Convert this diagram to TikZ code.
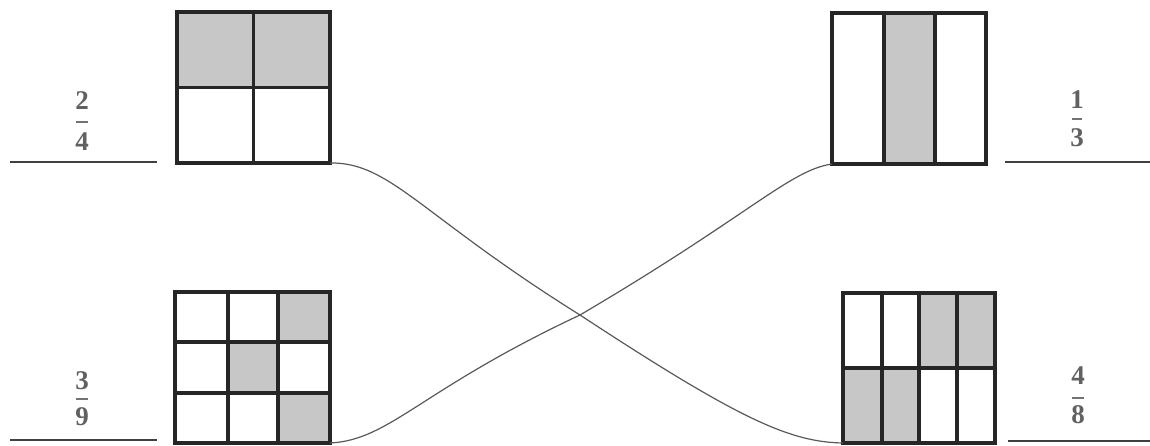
\documentclass[tikz,border=0pt]{standalone}
\usepackage{fontspec}
\newfontfamily\digitfont{Liberation Serif}
\begin{document}
\begin{tikzpicture}[x=1pt,y=-1pt,
  frame/.style={draw=black!85, line width=3.3pt, fill=none, inner sep=0pt, outer sep=0pt},
  gridline/.style={draw=black!85, line width=3.3pt},
  shade/.style={fill=black!22},
  digit/.style={text=black!62, font=\digitfont\fontsize{27}{27}\selectfont\bfseries, inner sep=0pt},
  fbar/.style={draw=black!55, line width=1.5pt},
  answer/.style={draw=black!75, line width=1.4pt},
  link/.style={draw=black!65, line width=1.2pt}]
\useasboundingbox (0,0) rectangle (1150,445);

% ---- top-left 2/4 square
\fill[shade] (177,12) rectangle (330,87);
\node[frame, minimum width=153pt, minimum height=151pt] (sqA) at (253.5,87.5) {};
\draw[gridline] (sqA.north) -- (sqA.south);
\draw[gridline] (sqA.west) -- (sqA.east);

% ---- top-right 1/3 square
\fill[shade] (884,13) rectangle (935,164);
\node[frame, minimum width=154pt, minimum height=151pt] (sqB) at (909,88.5) {};
\draw[gridline] (884,13) -- (884,164);
\draw[gridline] (935,13) -- (935,164);

% ---- bottom-left 3/9 square
\fill[shade] (278,292) rectangle (330,342);
\fill[shade] (228,342) rectangle (278,393);
\fill[shade] (278,393) rectangle (330,443);
\node[frame, minimum width=155pt, minimum height=151pt] (sqC) at (252.5,367.5) {};
\draw[gridline] (228,292) -- (228,443);
\draw[gridline] (278,292) -- (278,443);
\draw[gridline] (175,342) -- (330,342);
\draw[gridline] (175,393) -- (330,393);

% ---- bottom-right 4/8 square
\fill[shade] (919,293) rectangle (995,367);
\fill[shade] (843,367) rectangle (919,443);
\node[frame, minimum width=152pt, minimum height=150pt] (sqD) at (919,368) {};
\draw[gridline] (882,293) -- (882,443);
\draw[gridline] (919,293) -- (919,443);
\draw[gridline] (957,293) -- (957,443);
\draw[gridline] (sqD.west) -- (sqD.east);

% ---- fractions and answer lines
\node[digit] (nA) at (82,101) {2};
\node[digit] (dA) at (82,142) {4};
\draw[fbar] (76,122) -- (88,122);
\coordinate (lA1) at (10,162); \coordinate (lA2) at (157,162);
\draw[answer] (lA1) -- (lA2);

\node[digit] (nB) at (1077,100) {1};
\node[digit] (dB) at (1077,138) {3};
\draw[fbar] (1072,119) -- (1082,119);
\coordinate (lB1) at (1005,162); \coordinate (lB2) at (1150,162);
\draw[answer] (lB1) -- (lB2);

\node[digit] (nC) at (82,381) {3};
\node[digit] (dC) at (82,417) {9};
\draw[fbar] (76,399) -- (88,399);
\coordinate (lC1) at (10,440); \coordinate (lC2) at (157,440);
\draw[answer] (lC1) -- (lC2);

\node[digit] (nD) at (1078,376) {4};
\node[digit] (dD) at (1078,415) {8};
\draw[fbar] (1072,398) -- (1084,398);
\coordinate (lD1) at (1008,441); \coordinate (lD2) at (1150,441);
\draw[answer] (lD1) -- (lD2);

% ---- matching lines
\draw[link] (sqA.south east) .. controls (390,162) and (420,215) .. (580,315)
  .. controls (740,420) and (790,442) .. (sqD.south west);
\draw[link] (sqC.south east) .. controls (390,440) and (420,390) .. (580,315)
  .. controls (750,215) and (790,170) .. (sqB.south west);
\end{tikzpicture}
\end{document}
